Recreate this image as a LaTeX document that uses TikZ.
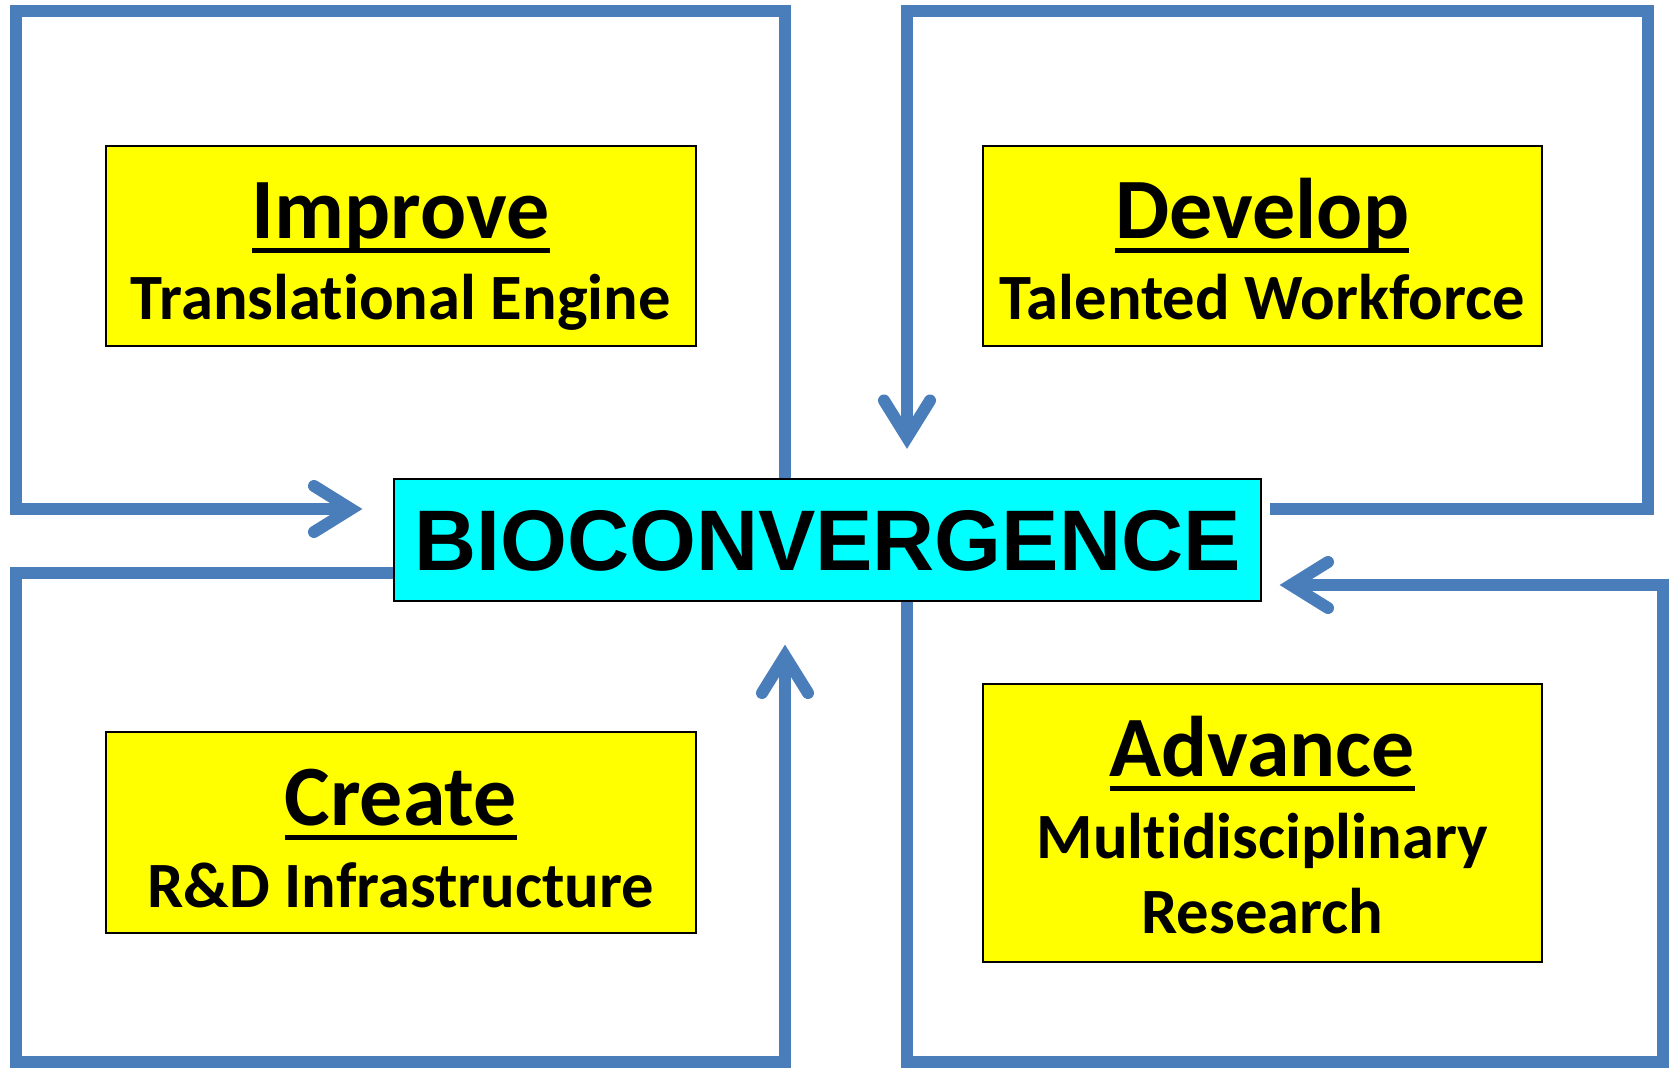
\documentclass[tikz,border=0pt]{standalone}
\usepackage{fontspec}
\setmainfont{Carlito}[Ligatures=NoCommon]
\newfontfamily\biofont{Liberation Sans}
\definecolor{frameblue}{HTML}{4A7EBB}
\definecolor{boxyellow}{HTML}{FFFF00}
\definecolor{boxcyan}{HTML}{00FFFF}
\newcommand\myul[1]{\setbox0\hbox{#1}\rlap{\vrule height -0.1em depth 0.16em width \wd0}\box0}
\begin{document}
\begin{tikzpicture}[x=0.5pt,y=-0.5pt,
  flow/.style={draw=frameblue,line width=6pt,line join=miter},
  chev/.style={draw=frameblue,line width=6pt,line cap=round,line join=miter},
  ybox/.style={draw=black,line width=1pt,fill=boxyellow,inner sep=0pt},
  head/.style={anchor=base,inner sep=0pt,font=\fontsize{43}{50}\selectfont\bfseries},
  sub/.style={anchor=base,inner sep=0pt,font=\fontsize{32.3}{38}\selectfont\bfseries},
  biobox/.style={draw=black,line width=1pt,fill=boxcyan,inner sep=0pt,
    minimum width=433.5pt,minimum height=61pt,
    font=\biofont\fontsize{43}{50}\selectfont\bfseries}]
\useasboundingbox (0,0) rectangle (1671,1068);

% central node
\node[biobox] (bio) at (827.5,540.5) {BIOCONVERGENCE};

% yellow boxes
\node[ybox,minimum width=295.25pt,minimum height=100.2pt] (imp) at (400.75,246.2) {};
\node[ybox,minimum width=279.7pt,minimum height=100.2pt] (dev) at (1262.3,246.2) {};
\node[ybox,minimum width=295.25pt,minimum height=100.2pt] (cre) at (400.75,832.3) {};
\node[ybox,minimum width=279.7pt,minimum height=139.05pt] (adv) at (1262.3,823.25) {};

% texts
\node[head] (impH) at (400.75,239) {\myul{Improve}};
\node[sub]  (impS) at (400.75,320) {Translational Engine};
\node[head] (devH) at (1262.3,239) {\myul{Develop}};
\node[sub]  (devS) at (1262.3,320) {Talented Workforce};
\node[head] (creH) at (400.75,826) {\myul{Create}};
\node[sub]  (creS) at (400.75,907) {R\&D Infrastructure};
\node[head] (advH) at (1262.3,777) {\myul{Advance}};
\node[sub]  (advS1) at (1262.3,859) {Multidisciplinary};
\node[sub]  (advS2) at (1262.3,933) {Research};

% coordinates
\coordinate (xIR) at (785,0);
\coordinate (xDL) at (907,0);
\coordinate (yA) at (0,573);
\coordinate (tipI) at (351,509);
\coordinate (tipD) at (907,437.5);
\coordinate (tipA) at (1291,585);
\coordinate (tipC) at (785,656);
\coordinate (devStart) at (1270,509);

% Improve loop
\draw[flow] (bio.north -| xIR) -- (785,11) -- (16,11) -- (16,509) -- (tipI);
\draw[chev] (tipI) ++(-37,-23) -- (tipI) -- ++(-37,23);

% Develop loop
\draw[flow] (devStart) -- (1648,509) -- (1648,11) -- (907,11) -- (tipD);
\draw[chev] (tipD) ++(-23,-37) -- (tipD) -- ++(23,-37);

% Advance loop
\draw[flow] (bio.south -| xDL) -- (907,1062) -- (1663,1062) -- (1663,585) -- (tipA);
\draw[chev] (tipA) ++(37,-23) -- (tipA) -- ++(37,23);

% Create loop
\draw[flow] (bio.west |- yA) -- (16,573) -- (16,1062) -- (785,1062) -- (tipC);
\draw[chev] (tipC) ++(-23,37) -- (tipC) -- ++(23,37);
\end{tikzpicture}
\end{document}
